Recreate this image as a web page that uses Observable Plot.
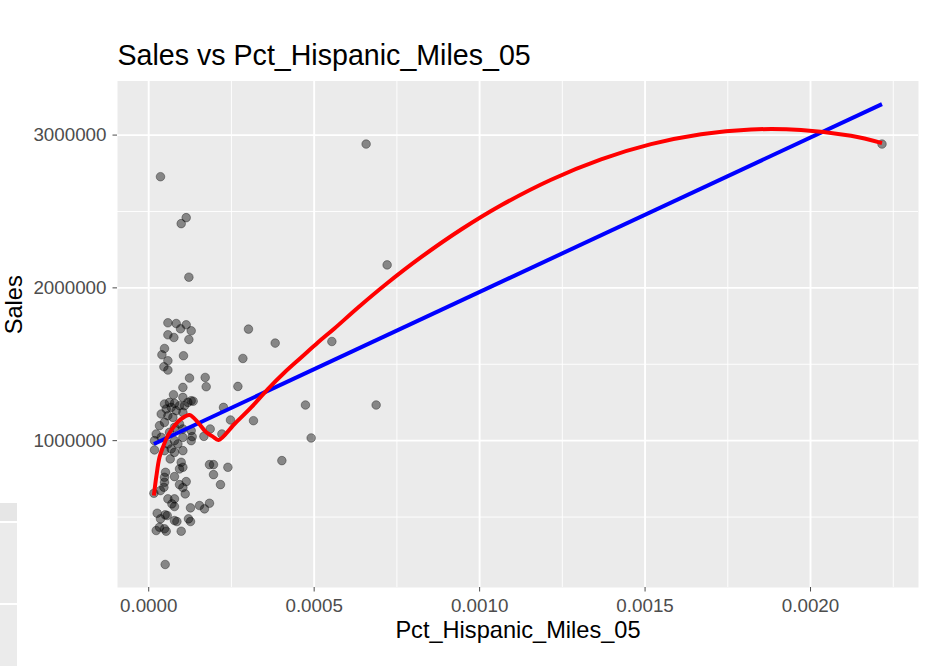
<!DOCTYPE html>
<html><head><meta charset="utf-8">
<script src="https://cdn.jsdelivr.net/npm/d3@7"></script>
<script src="https://cdn.jsdelivr.net/npm/@observablehq/plot@0.6"></script>
<style>
body{margin:0;background:#fff;}
#wrap{position:relative;width:931px;height:666px;overflow:hidden;font-family:"Liberation Sans",Arial,sans-serif;}
#wrap svg{position:absolute;left:0;top:0;}
.side{position:absolute;left:0;width:17px;background:#ebebeb;}
</style></head><body>
<div id="wrap">
<div class="side" style="top:503px;height:18px;background:#e6e6e6"></div>
<div class="side" style="top:523px;height:80px"></div>
<div class="side" style="top:605px;height:61px"></div>
</div>
<script>
const pctHispanic = [
0.0000356,0.0001133,0.0000982,0.0001214,0.000657,0.002216,0.0007205,0.0005535,0.0003015,0.0003822,
0.0002846,0.0001707,0.0001737,0.0002695,0.0004737,0.0006873,0.000226,0.0002471,0.0003166,0.0001858,
0.0002211,0.0001668,0.0004909,0.0004024,0.0001837,0.0001958,0.0002393,0.0001958,0.000058,0.0000831,
0.0001133,0.0000961,0.0001284,0.000058,0.0000761,0.0001214,0.0000477,0.0000399,0.0001051,0.000058,
0.0000459,0.000058,0.0001233,0.0001033,0.0000749,0.0001033,0.0001284,0.0001344,
0.0000477,0.0000628,0.0000779,0.0000931,0.000068,0.0000529,0.0000831,0.0001082,0.0001184,0.0001033,
0.0000378,0.000058,0.0000731,0.0000477,0.0000931,0.0000326,0.0000779,0.0001033,0.0001284,0.0000227,
0.0000378,0.0000628,0.0000779,0.0001033,0.0001284,0.0000882,0.000058,0.0000175,0.0001314,
0.0000175,0.0000477,0.000068,0.0000779,0.0001033,0.000065,0.0000982,0.0001033,0.0000931,0.0000508,
0.0000477,0.0000779,0.0001133,0.0000477,0.0000459,0.0002169,0.0000931,0.0001033,0.0001103,0.0000157,
0.0000356,0.000058,0.0000779,0.0000701,0.0000779,0.0001263,0.0001535,0.0001686,0.0001837,0.0000257,
0.0000498,0.0000559,0.0000356,0.0000779,0.0000852,0.0001202,0.0001263,0.0000227,0.0000326,0.0000477,
0.0000529,0.0000982,0.0000498
];
const sales = [
2727500,2459500,2420300,2069900,2941200,2941200,2150300,1649000,1730100,1638600,
1537900,1413700,1353000,1354900,1233300,1233300,1217700,1135300,1130700,1076500,
1043800,1028100,1017700,869300,843100,843100,825500,777800,1771300,1766700,
1758200,1732000,1719000,1692800,1675200,1662100,1603300,1562100,1555600,1522900,
1483700,1462100,1409800,1348400,1300700,1283000,1261400,1258200,
1239900,1250300,1243800,1228800,1217700,1207200,1196100,1228800,1250300,1185000,
1174500,1163400,1152300,1119600,1109200,1098000,1086900,1076500,1065400,1043800,
1021600,1054300,1000000,1021600,1000000,978400,978400,1000000,1026200,
939200,934600,945800,923500,934600,880400,858200,825500,815000,792800,
760100,764700,732000,727500,694800,712400,712400,692800,651600,655600,
673200,619000,619000,586300,568600,560100,575200,553600,590200,524800,
514400,509800,488200,477100,470600,488200,470600,411800,433300,422900,
407200,407200,189500
];
// fitted lines
const linFitX = [0.0000157, 0.002216];
const linFitY = [978000, 3202600];
const smoothFitX = [0.0000157,0.0000227,0.0000326,0.0000429,0.000058,0.0000779,0.0000982,0.0001233,0.0001486,0.0001737,
0.000194,0.0002109,0.0002592,0.0003097,0.0003601,0.0004103,0.0004607,0.0005112,0.0005613,0.000632,
0.0007205,0.0008232,0.0009441,0.0010649,0.001216,0.001367,0.0015181,0.0016692,0.0018202,0.0019713,
0.0021223,0.002216];
const smoothFitY = [640500,760100,890900,956200,1032700,1098000,1141800,1168000,1119600,1054300,
1026200,1004600,1109200,1217700,1337900,1446400,1544500,1642500,1734000,1869900,
2030100,2200700,2381700,2540500,2707900,2841200,2940500,3005900,3036600,3033400,
2995400,2947700];
const xTicks = [0, 0.0005, 0.001, 0.0015, 0.002];
const xMinor = [0.00025, 0.00075, 0.00125, 0.00175, 0.00225];
const yTicks = [1000000, 2000000, 3000000];
const yMinor = [500000, 1500000, 2500000];
const titleText = "Sales vs Pct_Hispanic_Miles_05";
const xTitle = "Pct_Hispanic_Miles_05";
const yTitle = "Sales";

const pts = pctHispanic.map((x, i) => ({x, y: sales[i]}));
const lin = linFitX.map((x, i) => ({x, y: linFitY[i]}));
const smooth = smoothFitX.map((x, i) => ({x, y: smoothFitY[i]}));

const chart = Plot.plot({
  width: 931, height: 666,
  marginLeft: 117, marginRight: 13, marginTop: 80.5, marginBottom: 79,
  style: {fontFamily: "'Liberation Sans', Arial, sans-serif", background: "transparent", overflow: "visible"},
  x: {domain: [-0.0000943, 0.0023263]},
  y: {domain: [38800, 3354000]},
  marks: [
    Plot.frame({fill: "#ebebeb", stroke: null}),
    Plot.gridX(xMinor, {stroke: "white", strokeOpacity: 1, strokeWidth: 0.9}),
    Plot.gridY(yMinor, {stroke: "white", strokeOpacity: 1, strokeWidth: 0.9}),
    Plot.gridX(xTicks, {stroke: "white", strokeOpacity: 1, strokeWidth: 1.9}),
    Plot.gridY(yTicks, {stroke: "white", strokeOpacity: 1, strokeWidth: 1.9}),
    Plot.dot(pts, {x: "x", y: "y", r: 4.3, fill: "black", fillOpacity: 0.43, stroke: "black", strokeOpacity: 0.43, strokeWidth: 0.8}),
    Plot.line(lin, {x: "x", y: "y", stroke: "#0000ff", strokeWidth: 4, strokeLinecap: "butt"}),
    Plot.line(smooth, {x: "x", y: "y", stroke: "#ff0000", strokeWidth: 4, curve: "catmull-rom", strokeLinecap: "butt"}),
    Plot.axisX({ticks: xTicks, tickFormat: d3.format(".4f"), tickSize: 4.5, tickPadding: 6.5, fontSize: 18.8, color: "#4d4d4d", label: null}),
    Plot.axisY({ticks: yTicks, tickFormat: d => String(d), tickSize: 4.5, tickPadding: 6.5, fontSize: 18.8, color: "#4d4d4d", label: null}),
    Plot.text([titleText], {text: d => d, frameAnchor: "top-left", textAnchor: "start", lineAnchor: "bottom", dy: -16, fontSize: 28.6, fill: "black"}),
    Plot.text([xTitle], {text: d => d, frameAnchor: "bottom", lineAnchor: "bottom", dy: 50, fontSize: 23.6, fill: "black"}),
    Plot.text([yTitle], {text: d => d, frameAnchor: "left", lineAnchor: "bottom", rotate: -90, dx: -96, fontSize: 23.6, fill: "black"})
  ]
});
document.getElementById("wrap").appendChild(chart);
</script>
</body></html>
